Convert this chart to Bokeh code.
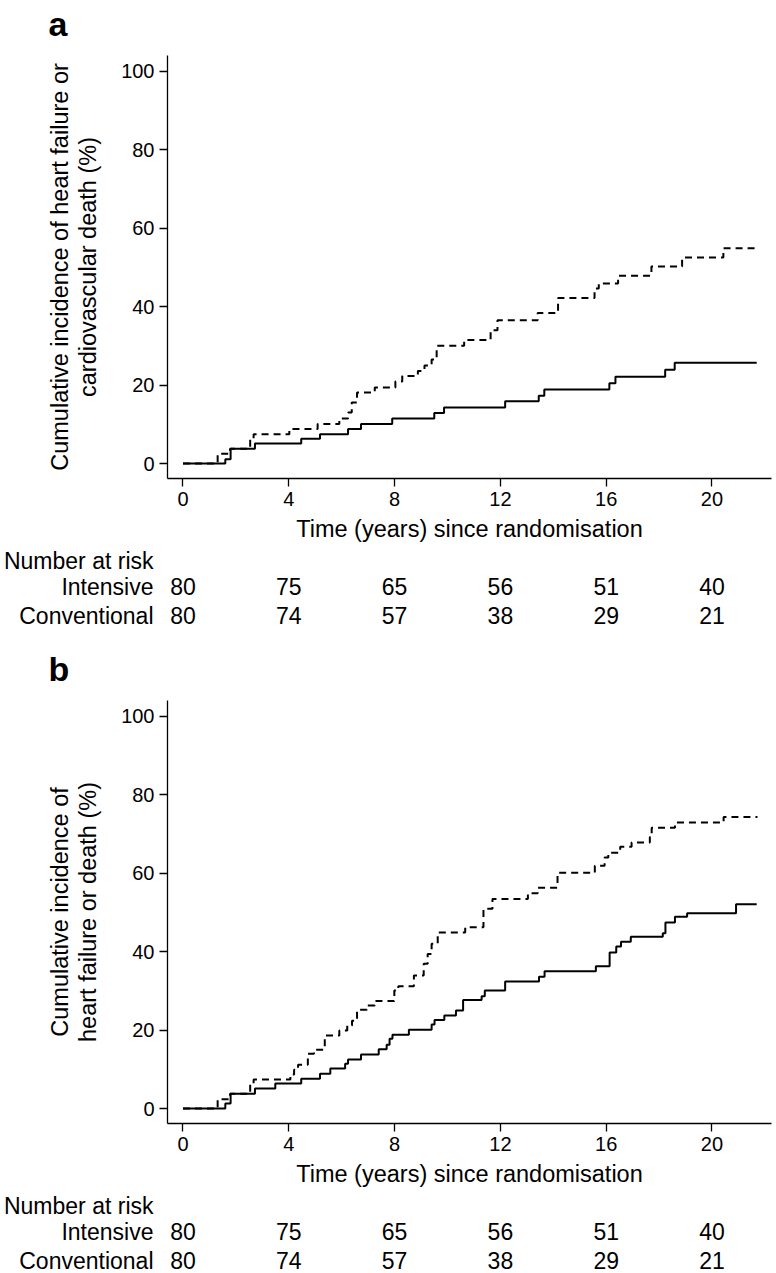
from bokeh.plotting import figure
from bokeh.layouts import column
from bokeh.models import Range1d, FixedTicker, Title
from bokeh.core.properties import value
from bokeh.embed import file_html
from bokeh.resources import INLINE

FONT = "Liberation Sans"

# ---------------- data ----------------
x_ticks = [0, 4, 8, 12, 16, 20]
y_ticks = [0, 20, 40, 60, 80, 100]
risk_times = [0, 4, 8, 12, 16, 20]
row_names = ["Number at risk", "Intensive", "Conventional"]

# Panel a: heart failure or cardiovascular death
a_int_t = [0, 1.60, 1.80, 2.72, 4.47, 5.18, 6.24, 6.73, 7.91, 9.50, 9.87, 12.18,
           13.45, 13.66, 16.12, 16.35, 18.23, 18.59, 21.69]
a_int_y = [0, 1.1, 3.8, 5.1, 6.3, 7.5, 8.8, 10.1, 11.5, 12.9, 14.3, 15.9,
           17.3, 18.9, 20.5, 22.1, 23.9, 25.7, 25.7]
a_con_t = [0, 1.31, 1.78, 2.54, 2.67, 4.02, 5.09, 5.91, 6.24, 6.38, 6.58, 7.25,
           8.03, 8.29, 8.88, 9.13, 9.40, 9.59, 10.63, 11.63, 11.89, 13.41, 14.18,
           15.56, 15.72, 16.45, 17.71, 18.87, 20.43, 21.72]
a_con_y = [0, 2.5, 3.8, 6.3, 7.5, 8.8, 10.1, 11.5, 13.0, 15.6, 18.1, 19.4,
           20.9, 22.3, 23.6, 25.0, 26.5, 30.0, 31.5, 34.0, 36.5, 38.4, 42.2,
           44.6, 45.9, 47.9, 50.2, 52.5, 54.9, 54.9]
a_int_risk = [80, 75, 65, 56, 51, 40]
a_con_risk = [80, 74, 57, 38, 29, 21]

# Panel b: heart failure or death
b_int_t = [0, 1.60, 1.80, 2.72, 3.49, 4.47, 5.18, 5.57, 6.13, 6.24, 6.73, 7.40,
           7.70, 7.81, 7.92, 8.54, 9.40, 9.51, 9.88, 10.32, 10.59, 11.29, 11.41,
           12.18, 13.46, 13.67, 15.61, 16.13, 16.38, 16.56, 16.93, 18.14, 18.24,
           18.60, 19.06, 20.91, 21.69]
b_int_y = [0, 1.3, 3.8, 5.1, 6.4, 7.6, 8.9, 10.2, 11.4, 12.5, 13.8, 15.1,
           16.3, 17.8, 18.8, 20.1, 21.4, 22.6, 23.7, 25.0, 27.7, 28.6, 30.1,
           32.4, 33.6, 35.0, 36.3, 39.8, 41.3, 42.5, 43.8, 44.7, 47.4,
           48.9, 49.8, 52.1, 52.1]
b_con_t = [0, 1.31, 1.78, 2.54, 2.67, 4.06, 4.20, 4.35, 4.72, 4.95, 5.36, 5.91,
           6.21, 6.39, 6.58, 6.95, 7.25, 7.99, 8.14, 8.73, 9.10, 9.25, 9.40, 9.63,
           10.67, 11.36, 11.70, 13.04, 13.41, 14.16, 15.57, 15.94, 16.08, 16.53,
           16.96, 17.65, 17.72, 18.60, 20.44, 21.72]
b_con_y = [0, 2.4, 3.8, 6.4, 7.4, 8.7, 9.9, 11.2, 14.0, 15.0, 18.6, 19.9,
           21.2, 22.4, 25.2, 26.3, 27.4, 30.1, 31.2, 33.9, 36.9, 39.4, 42.0, 44.9,
           46.2, 50.9, 53.4, 54.9, 56.3, 60.1, 61.9, 64.0, 65.2, 66.7,
           67.8, 69.2, 71.6, 72.9, 74.3, 74.3]
b_int_risk = [80, 75, 65, 56, 51, 40]
b_con_risk = [80, 74, 57, 38, 29, 21]

# ---------------- layout constants ----------------
W = 776
LEFT = 167
RIGHT = 5
X_LO, X_HI = -0.586, 22.25       # frame x-range (years)
Y_LO, Y_HI = -3.8, 104.0          # frame y-range (%)
TOP = 55
FRAME_H = 423
BOTTOM = 69
TICK_FS = "20px"
TITLE_FS = "23.5px"
TXT_FS = "23px"


def km_plot(label, ylab, ti, yi, tc, yc):
    p = figure(width=W, height=TOP + FRAME_H + BOTTOM, title=None,
               x_range=Range1d(X_LO, X_HI), y_range=Range1d(Y_LO, Y_HI),
               min_border_left=LEFT, min_border_right=RIGHT,
               min_border_top=TOP, min_border_bottom=BOTTOM,
               output_backend="svg", toolbar_location=None)
    p.outline_line_color = None
    p.grid.visible = False
    p.background_fill_color = "white"
    p.border_fill_color = "white"

    p.step(ti, yi, mode="after", line_color="black", line_width=2)
    p.step(tc, yc, mode="after", line_color="black", line_width=2,
           line_dash="7 5")

    for ax in (p.xaxis[0], p.yaxis[0]):
        ax.axis_line_color = "black"
        ax.axis_line_width = 1.3
        ax.major_tick_line_color = "black"
        ax.major_tick_line_width = 1.3
        ax.major_tick_out = 8
        ax.major_tick_in = 0
        ax.minor_tick_line_color = None
        ax.major_label_text_font = FONT
        ax.major_label_text_font_size = TICK_FS
        ax.major_label_text_color = "black"
        ax.major_label_standoff = 5
        ax.axis_label_text_font = FONT
        ax.axis_label_text_font_size = TITLE_FS
        ax.axis_label_text_font_style = "normal"
        ax.axis_label_text_color = "black"

    p.xaxis.ticker = FixedTicker(ticks=x_ticks)
    p.yaxis.ticker = FixedTicker(ticks=y_ticks)
    p.xaxis.axis_label = "Time (years) since randomisation"
    p.xaxis.axis_label_standoff = 7
    p.yaxis.axis_label = ylab
    p.yaxis.axis_label_standoff = 17
    p.yaxis.axis_label_text_line_height = 1.07

    # thin spacer between the frame and the panel letter
    p.add_layout(Title(text=" ", text_font_size="8px", standoff=0), "above")
    p.add_layout(Title(text=label, text_font=FONT, text_font_size="34px",
                       text_font_style="bold", text_color="black", align="left",
                       offset=-119, vertical_align="top", standoff=0), "above")
    return p


def risk_table(h, rows_y, int_risk, con_risk):
    t = figure(width=W, height=h, x_range=Range1d(X_LO, X_HI), y_range=Range1d(h, 0),
               min_border_left=LEFT, min_border_right=RIGHT,
               min_border_top=0, min_border_bottom=0, x_axis_type=None,
               output_backend="svg", toolbar_location=None)
    t.outline_line_color = None
    t.grid.visible = False
    t.background_fill_color = "white"
    t.border_fill_color = "white"
    ax = t.yaxis[0]
    ax.ticker = FixedTicker(ticks=rows_y)
    ax.major_label_overrides = {rows_y[i]: row_names[i] for i in range(3)}
    ax.axis_line_color = None
    ax.major_tick_line_color = None
    ax.minor_tick_line_color = None
    ax.major_tick_out = 0
    ax.major_tick_in = 0
    ax.major_label_standoff = 14
    ax.major_label_text_font = FONT
    ax.major_label_text_font_size = TXT_FS
    ax.major_label_text_color = "black"
    kw = dict(text_font=value(FONT), text_font_size=TXT_FS, text_color="black",
              text_baseline="middle", text_align="center")
    t.text(x=risk_times, y=[rows_y[1]] * len(risk_times),
           text=[str(v) for v in int_risk], **kw)
    t.text(x=risk_times, y=[rows_y[2]] * len(risk_times),
           text=[str(v) for v in con_risk], **kw)
    return t


pa = km_plot("a", "Cumulative incidence of heart failure or\ncardiovascular death (%)",
             a_int_t, a_int_y, a_con_t, a_con_y)
ta = risk_table(98, [13, 39, 68], a_int_risk, a_con_risk)
pb = km_plot("b", "Cumulative incidence of\nheart failure or death (%)",
             b_int_t, b_int_y, b_con_t, b_con_y)
tb = risk_table(81, [13, 39, 68], b_int_risk, b_con_risk)

layout = column(pa, ta, pb, tb, spacing=0)
open("out.html", "w").write(file_html(layout, INLINE))
